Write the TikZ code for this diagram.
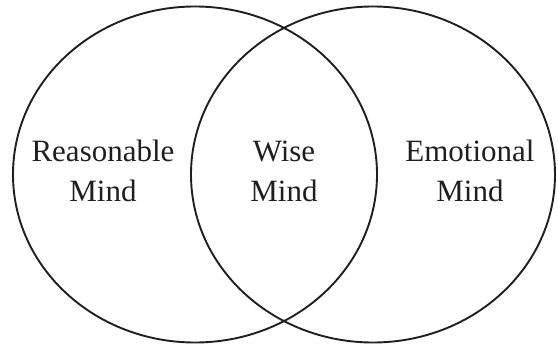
\documentclass[tikz,border=0pt]{standalone}
\usepackage{fontspec}
\setmainfont{Liberation Serif}
\usetikzlibrary{positioning}

\begin{document}
\begin{tikzpicture}[
  x=1pt, y=-1pt,
  mindring/.style={draw=black!88, line width=1.9pt},
  mindlabel/.style={font=\fontsize{31}{40}\selectfont, text=black!88, align=center, inner sep=0pt}
]
  \useasboundingbox (0,0) rectangle (558,345);

  \draw[mindring] (195,174.5) ellipse [x radius=182, y radius=168];
  \draw[mindring] (373,174.5) ellipse [x radius=182, y radius=168];

  \node[mindlabel] (reason) at (103,171) {Reasonable\\Mind};
  \node[mindlabel] (wise) at (284,171) {Wise\\Mind};
  \node[mindlabel] (emotion) at (470,171) {Emotional\\Mind};
\end{tikzpicture}
\end{document}
